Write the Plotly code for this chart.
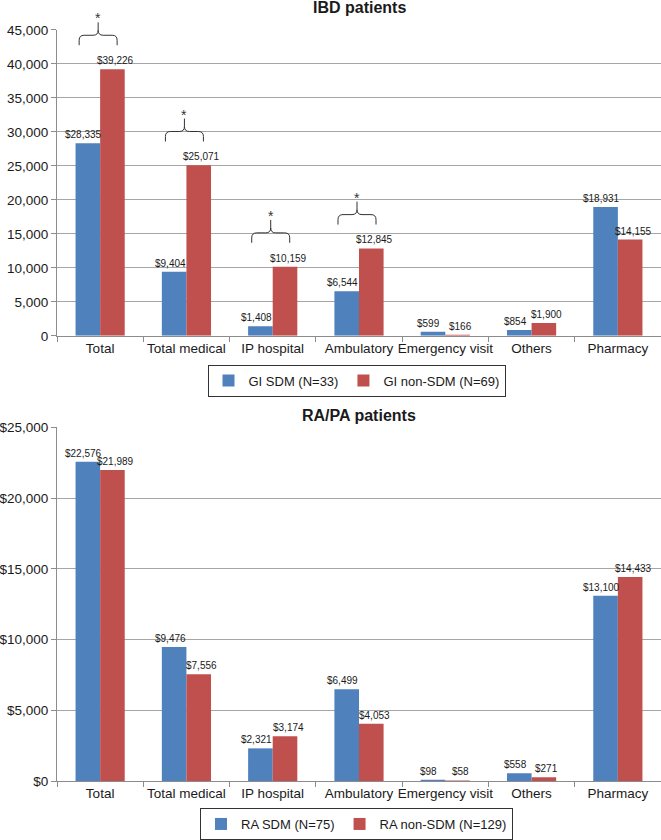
import plotly.graph_objects as go

# ---------------- data ----------------
categories = ["Total", "Total medical", "IP hospital", "Ambulatory",
              "Emergency visit", "Others", "Pharmacy"]

gi_sdm = [28335, 9404, 1408, 6544, 599, 854, 18931]
gi_non_sdm = [39226, 25071, 10159, 12845, 166, 1900, 14155]

ra_sdm = [22576, 9476, 2321, 6499, 98, 558, 13100]
ra_non_sdm = [21989, 7556, 3174, 4053, 58, 271, 14433]

top_names = ["GI SDM (N=33)", "GI non-SDM (N=69)"]
bottom_names = ["RA SDM (N=75)", "RA non-SDM (N=129)"]
top_title = "IBD patients"
bottom_title = "RA/PA patients"
significant_top = ["Total", "Total medical", "IP hospital", "Ambulatory"]

top_max, top_step = 45000, 5000
bottom_max, bottom_step = 25000, 5000

# ---------------- geometry ----------------
W, H = 661, 840
L = 57
PW = W - L
TOP_Y0, TOP_Y1 = 30, 337        # pixel rows of top axis max / zero
BOT_Y0, BOT_Y1 = 429, 784       # pixel rows of bottom axis max / zero
BARGAP = 0.43
BAR_W = PW / len(categories) * (1 - BARGAP) / 2

BLUE = "#4F81BD"
RED = "#C0504D"
GRID = "#A6A6A6"
AXIS = "#8C8C8C"
TXT = "#1a1a1a"
FONT = "Liberation Sans, Arial, sans-serif"


def py2paper(py):
    return 1 - py / H


def px2paper(px):
    return (px - L) / PW


def cat_px(i):
    return L + (i + 0.5) * PW / len(categories)


def top_val_px(v):
    return TOP_Y1 - v / top_max * (TOP_Y1 - TOP_Y0)


fig = go.Figure()

series = [
    ("x", "y", "legend", gi_sdm, top_names[0], BLUE, -1),
    ("x", "y", "legend", gi_non_sdm, top_names[1], RED, 1),
    ("x2", "y2", "legend2", ra_sdm, bottom_names[0], BLUE, -1),
    ("x2", "y2", "legend2", ra_non_sdm, bottom_names[1], RED, 1),
]

for xa, ya, lg, vals, name, col, side in series:
    fig.add_trace(go.Bar(
        x=categories, y=vals, name=name, marker=dict(color=col, line=dict(width=0)),
        xaxis=xa, yaxis=ya, legend=lg, hoverinfo="skip"))
    # value labels (drawn as annotations so neighbouring bars never hide them)
    for c, v in zip(categories, vals):
        fig.add_annotation(
            x=c, y=v, xref=xa, yref=ya, text="${:,}".format(v), showarrow=False,
            xanchor="center", yanchor="bottom",
            xshift=side * BAR_W / 2 + (-4 if side < 0 else 3), yshift=1,
            font=dict(size=10, color=TXT, family=FONT))

xcommon = dict(type="category", tickson="boundaries", ticks="outside", ticklen=5,
               tickcolor=AXIS, showline=True, linecolor=AXIS, linewidth=1,
               showgrid=False, tickangle=0,
               tickfont=dict(size=13.5, color=TXT, family=FONT),
               automargin=False, range=[-0.5, len(categories) - 0.5])
ycommon = dict(showgrid=True, gridcolor=GRID, gridwidth=1, showline=True,
               linecolor=AXIS, linewidth=1, ticks="outside", ticklen=5, tickcolor=AXIS,
               tickfont=dict(size=13.5, color=TXT, family=FONT), automargin=False,
               zeroline=False, tickformat=",")

legend_common = dict(orientation="h", xanchor="center", yanchor="middle",
                     bgcolor="white", bordercolor="#333333", borderwidth=1,
                     font=dict(size=13, color=TXT, family=FONT), itemclick=False,
                     itemdoubleclick=False)

fig.update_layout(
    width=W, height=H,
    margin=dict(l=L, r=0, t=0, b=0),
    paper_bgcolor="white", plot_bgcolor="white",
    barmode="group", bargap=BARGAP, bargroupgap=0,
    font=dict(family=FONT, color=TXT),
    xaxis=dict(**xcommon, domain=[0, 1], anchor="y"),
    yaxis=dict(**ycommon, domain=[py2paper(TOP_Y1), py2paper(TOP_Y0)],
               range=[0, top_max], dtick=top_step, anchor="x"),
    xaxis2=dict(**xcommon, domain=[0, 1], anchor="y2"),
    yaxis2=dict(**ycommon, domain=[py2paper(BOT_Y1), py2paper(BOT_Y0)],
                range=[0, bottom_max], dtick=bottom_step, tickprefix="$", anchor="x2"),
    legend=dict(**legend_common, x=px2paper(356.5), y=py2paper(382)),
    legend2=dict(**legend_common, x=px2paper(356.5), y=py2paper(827)),
    showlegend=True,
)

# titles
fig.add_annotation(text="<b>%s</b>" % top_title, xref="paper", yref="paper",
                   x=0.5, y=py2paper(8), xanchor="center", yanchor="middle",
                   showarrow=False, font=dict(size=16, color=TXT, family=FONT))
fig.add_annotation(text="<b>%s</b>" % bottom_title, xref="paper", yref="paper",
                   x=0.5, y=py2paper(417), xanchor="center", yanchor="middle",
                   showarrow=False, font=dict(size=16, color=TXT, family=FONT))

# significance braces over the top chart
for cat in significant_top:
    i = categories.index(cat)
    v = max(gi_sdm[i], gi_non_sdm[i])
    yb = top_val_px(v) - 24
    yh = yb - 10
    yt = yb - 23
    xc = cat_px(i) - 2
    xl, xr = xc - 19, xc + 19
    r = 5

    def P(x, y):
        return "%.5f,%.5f" % (px2paper(x), py2paper(y))

    path = ("M " + P(xl, yb) + " L " + P(xl, yh + r) + " Q " + P(xl, yh) + " " + P(xl + r, yh) +
            " L " + P(xc - r, yh) + " Q " + P(xc, yh) + " " + P(xc, yh - r) + " L " + P(xc, yt) +
            " M " + P(xc, yh - r) + " Q " + P(xc, yh) + " " + P(xc + r, yh) +
            " L " + P(xr - r, yh) + " Q " + P(xr, yh) + " " + P(xr, yh + r) + " L " + P(xr, yb))
    fig.add_shape(type="path", path=path, xref="paper", yref="paper",
                  line=dict(color="#333333", width=1), layer="above")
    fig.add_annotation(text="*", xref="paper", yref="paper",
                       x=px2paper(xc), y=py2paper(yb - 27), xanchor="center", yanchor="middle",
                       showarrow=False, font=dict(size=14, color="#333333", family=FONT))

fig.write_html("out.html",
               config={"displayModeBar": False, "staticPlot": True},
               post_script="document.body.style.margin='0';document.body.style.padding='0';"
                           "document.body.style.overflow='hidden';")
